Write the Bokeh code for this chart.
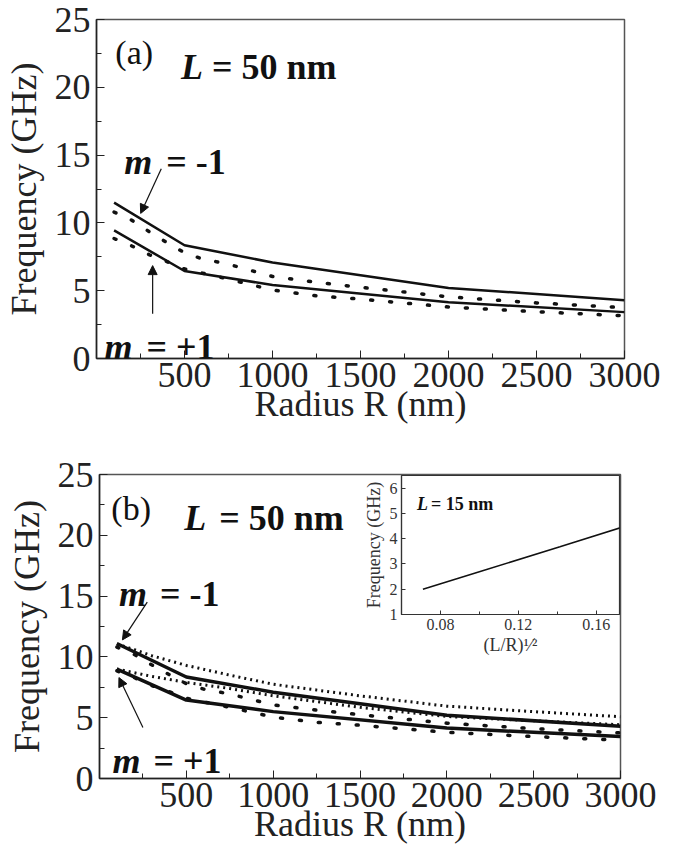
from bokeh.plotting import figure
from bokeh.layouts import column, row
from bokeh.models import Range1d, FixedTicker, Label, Arrow, NormalHead
from bokeh.embed import file_html
from bokeh.resources import INLINE

FONT = "Liberation Serif"

# ---------------- data ----------------
radius_solid = [100, 500, 1000, 2000, 3000]
freq_a_solid_m_minus = [11.5, 8.35, 7.08, 5.2, 4.3]
freq_a_solid_m_plus = [9.45, 6.45, 5.42, 4.15, 3.42]
freq_b_solid_m_minus = [11.1, 8.35, 7.1, 5.2, 4.3]
freq_b_solid_m_plus = [9.0, 6.45, 5.5, 4.15, 3.45]

radius_dots = [100, 200, 300, 400, 500, 600, 750, 1000, 1250, 1500, 2000, 2500, 3000]
freq_dots_m_minus = [10.8, 10.2, 9.35, 8.55, 7.8, 7.35, 6.95, 6.05, 5.62, 5.25, 4.55, 4.1, 3.75]
freq_dots_m_plus = [8.85, 8.3, 7.65, 7.15, 6.6, 6.3, 5.85, 5.05, 4.62, 4.38, 3.8, 3.45, 3.15]

radius_fine = [100, 200, 300, 500, 750, 1000, 1500, 2000, 2500, 3000]
freq_fine_m_minus = [11.05, 10.6, 10.1, 9.3, 8.5, 7.75, 6.8, 5.95, 5.5, 5.08]
freq_fine_m_plus = [9.0, 8.7, 8.4, 7.9, 7.4, 6.8, 5.85, 5.1, 4.75, 4.42]

inset_x = [0.071, 0.1, 0.1414, 0.1732]
inset_freq = [2.0, 2.69, 3.68, 4.45]

x_major = [500, 1000, 1500, 2000, 2500, 3000]
x_minor = [250, 750, 1250, 1750, 2250, 2750]
y_major = [0, 5, 10, 15, 20, 25]
y_minor = [2.5, 7.5, 12.5, 17.5, 22.5]
inset_x_major = [0.08, 0.12, 0.16]
inset_x_minor = [0.10, 0.14]
inset_y_major = [1, 2, 3, 4, 5, 6]


def txt(p, x, y, text, size, style="normal", align="left", baseline="alphabetic", xoff=0):
    p.add_layout(Label(x=x, y=y, text=text, text_font=FONT, text_font_size=size,
                       text_font_style=style, text_align=align, text_baseline=baseline,
                       x_offset=xoff, text_color="#111"))


def style_axes(p, tick_size, label_size, tick_in, minor_in, lw, color):
    p.axis.axis_line_width = lw
    p.axis.axis_line_color = color
    p.axis.major_tick_in = tick_in
    p.axis.major_tick_out = 0
    p.axis.minor_tick_in = minor_in
    p.axis.minor_tick_out = 0
    p.axis.major_tick_line_color = color
    p.axis.minor_tick_line_color = color
    p.axis.major_label_text_font = FONT
    p.axis.major_label_text_font_size = tick_size
    p.axis.major_label_text_color = color
    p.axis.axis_label_text_font = FONT
    p.axis.axis_label_text_font_size = label_size
    p.axis.axis_label_text_font_style = "normal"
    p.axis.axis_label_text_color = color


def make_panel(fw, fh, top, bottom, left, right):
    p = figure(frame_width=fw, frame_height=fh, x_range=Range1d(0, 3000), y_range=Range1d(0, 25),
               output_backend="svg", toolbar_location=None,
               min_border_left=left, min_border_right=right,
               min_border_top=top, min_border_bottom=bottom)
    p.grid.visible = False
    p.outline_line_color = "#555"
    p.outline_line_width = 1.5
    style_axes(p, "36px", "36px", 8, 5, 1.5, "#222")
    p.xaxis.ticker = FixedTicker(ticks=x_major, minor_ticks=x_minor)
    p.yaxis.ticker = FixedTicker(ticks=y_major, minor_ticks=y_minor)
    p.xaxis.major_label_standoff = 4
    p.yaxis.major_label_standoff = 6
    p.yaxis.axis_label = "Frequency (GHz)"
    p.yaxis.axis_label_standoff = 8
    p.xaxis.axis_label = "Radius R (nm)"
    p.xaxis.axis_label_standoff = -6
    return p


def arrow(p, xs, ys, xe, ye):
    p.add_layout(Arrow(x_start=xs, y_start=ys, x_end=xe, y_end=ye, line_width=1.2,
                       line_color="#111",
                       end=NormalHead(size=9, fill_color="#111", line_color="#111", line_width=1)))


# ---------------- panel (a) ----------------
pa = make_panel(528, 339, 19, 72, 92, 38)
pa.line(radius_dots, freq_dots_m_minus, line_color="#111", line_width=3.5,
        line_dash="2 17", line_cap="round")
pa.line(radius_dots, freq_dots_m_plus, line_color="#111", line_width=3.5,
        line_dash="2 17", line_cap="round")
pa.line(radius_solid, freq_a_solid_m_minus, line_color="#111", line_width=2.5)
pa.line(radius_solid, freq_a_solid_m_plus, line_color="#111", line_width=2.5)
txt(pa, 107, 22.6, "(a)", "34px", "normal", baseline="middle")
txt(pa, 480, 21.5, "L", "36px", "bold italic")
txt(pa, 480, 21.5, "= 50 nm", "36px", "bold", xoff=31)
txt(pa, 157, 14.5, "m", "36px", "bold italic")
txt(pa, 157, 14.5, "= -1", "36px", "bold", xoff=42)
txt(pa, 45, 0.85, "m", "36px", "bold italic")
txt(pa, 45, 0.85, "= +1", "36px", "bold", xoff=42)
arrow(pa, 368, 14.0, 251, 10.7)
arrow(pa, 319, 3.3, 319, 6.85)

# ---------------- panel (b) ----------------
PB_TOP, PB_FRAME, PB_BOTTOM = 44, 304, 70
pb = make_panel(521, PB_FRAME, PB_TOP, PB_BOTTOM, 99, 38)
pb.line(radius_dots, freq_dots_m_minus, line_color="#111", line_width=3.5,
        line_dash="2 17", line_cap="round")
pb.line(radius_dots, freq_dots_m_plus, line_color="#111", line_width=3.5,
        line_dash="2 17", line_cap="round")
pb.line(radius_fine, freq_fine_m_minus, line_color="#111", line_width=3, line_dash="2 4")
pb.line(radius_fine, freq_fine_m_plus, line_color="#111", line_width=3, line_dash="2 4")
pb.line(radius_solid, freq_b_solid_m_minus, line_color="#111", line_width=3.5)
pb.line(radius_solid, freq_b_solid_m_plus, line_color="#111", line_width=3.5)
txt(pb, 68, 22.2, "(b)", "34px", "normal", baseline="middle")
txt(pb, 488, 21.4, "L", "36px", "bold italic")
txt(pb, 488, 21.4, "= 50 nm", "36px", "bold", xoff=35)
txt(pb, 112, 15.2, "m", "36px", "bold italic")
txt(pb, 112, 15.2, "= -1", "36px", "bold", xoff=41)
txt(pb, 75, 1.4, "m", "36px", "bold italic")
txt(pb, 75, 1.4, "= +1", "36px", "bold", xoff=41)
arrow(pb, 275, 14.5, 132, 11.4)
arrow(pb, 250, 4.2, 112, 8.3)

# ---------------- inset (same canvas size as panel b, overlaid) ----------------
PB_H = PB_TOP + PB_FRAME + PB_BOTTOM
IN_TOP, IN_FRAME = PB_TOP + 1, 139
inset = figure(frame_width=218, frame_height=IN_FRAME, x_range=Range1d(0.06, 0.172),
               y_range=Range1d(1, 6.5),
               output_backend="svg", toolbar_location=None,
               min_border_left=401, min_border_right=39, min_border_top=IN_TOP,
               min_border_bottom=PB_H - IN_TOP - IN_FRAME)
inset.border_fill_alpha = 0
inset.background_fill_color = "white"
inset.grid.visible = False
inset.outline_line_color = "#333"
inset.outline_line_width = 1.2
style_axes(inset, "16px", "18px", 4, 3, 1.2, "#333")
inset.xaxis.ticker = FixedTicker(ticks=inset_x_major, minor_ticks=inset_x_minor)
inset.yaxis.ticker = FixedTicker(ticks=inset_y_major, minor_ticks=[])
inset.xaxis.major_label_standoff = 4
inset.yaxis.major_label_standoff = 4
inset.yaxis.axis_label = "Frequency (GHz)"
inset.yaxis.axis_label_standoff = 3
inset.xaxis.axis_label = "(L/R)\u00b9\u2044\u00b2"
inset.xaxis.axis_label_standoff = 2
inset.line(inset_x, inset_freq, line_color="#111", line_width=1.5)
txt(inset, 0.068, 5.39, "L", "18px", "bold italic")
txt(inset, 0.068, 5.39, "= 15 nm", "18px", "bold", xoff=14)

layout = column(row(pa), row(pb), row(inset, margin=(-PB_H, 0, 0, 0)), spacing=0)
open("out.html", "w").write(file_html(layout, INLINE))
